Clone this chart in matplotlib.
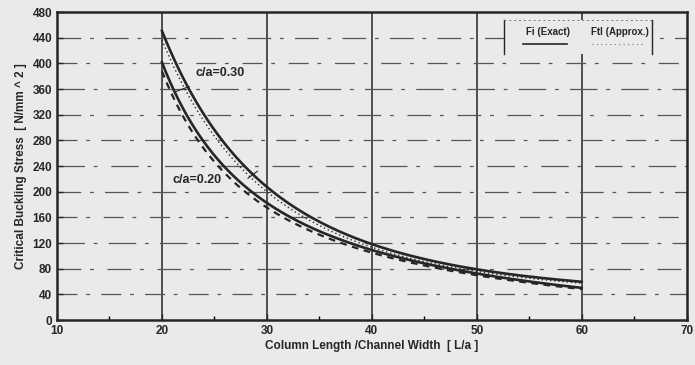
import matplotlib
matplotlib.use("Agg")
import matplotlib.pyplot as plt
import numpy as np

# Values
L_a = [20, 25, 30, 35, 40, 45, 50, 55, 60]
exact_030 = [450, 300, 203, 152, 120, 97, 80, 68, 58]
approx_030 = [436, 290, 196, 146, 115, 93, 77, 65, 56]
exact_020 = [402, 255, 185, 138, 109, 88, 72, 60, 51]
approx_020 = [388, 245, 178, 132, 105, 85, 69, 58, 49]

x_ticks = [10, 20, 30, 40, 50, 60, 70]
y_ticks = list(range(0, 481, 40))

plt.rcParams['font.family'] = ['Liberation Sans', 'DejaVu Sans']
plt.rcParams['font.weight'] = 'bold'

bg = '#eaeae8'
ink = '#262626'

fig = plt.figure(figsize=(6.95, 3.65), dpi=100, facecolor=bg)
ax = fig.add_axes([0.082, 0.123, 0.906, 0.844], facecolor=bg)

# smooth the read points a little for drawing
def smooth(x, y):
    xs = np.linspace(x[0], x[-1], 200)
    c = np.polyfit(1.0 / np.array(x), np.array(y), 3)
    return xs, np.polyval(c, 1.0 / xs)

# grid: vertical solid, horizontal broken (faded scan)
for xv in x_ticks[1:-1]:
    ax.axvline(xv, color=ink, lw=1.1, zorder=1)
for i, yv in enumerate(y_ticks[1:-1]):
    ax.axhline(yv, color='#555555', lw=0.9, zorder=1,
               dashes=(16 + 3 * (i % 3), 7, 3, 9 + 2 * (i % 2)))

xs, ys = smooth(L_a, exact_030)
ax.plot(xs, ys, color=ink, lw=1.9, zorder=3)
xs, ys = smooth(L_a, approx_030)
ax.plot(xs, ys, color=ink, lw=1.0, ls=(0, (1, 2)), zorder=3)
xs, ys = smooth(L_a, exact_020)
ax.plot(xs, ys, color=ink, lw=1.9, zorder=3)
xs, ys = smooth(L_a, approx_020)
ax.plot(xs, ys, color=ink, lw=1.6, ls=(0, (3, 2.5)), zorder=3)

ax.text(23.2, 385, "c/a=0.30", fontsize=9, fontweight='bold', color=ink,
        va='center', ha='left')
ax.plot([21.3, 22.6], [356, 364], color=ink, lw=0.8)
ax.text(21.0, 218, "c/a=0.20", fontsize=9, fontweight='bold', color=ink,
        va='center', ha='left')
ax.plot([28.2, 29.1], [221, 232], color=ink, lw=0.8)

# legend box
ax.add_patch(plt.Rectangle((0.71, 0.865), 0.235, 0.11, transform=ax.transAxes,
                           facecolor=bg, edgecolor='none', zorder=2))
ax.plot([0.71, 0.71], [0.865, 0.975], transform=ax.transAxes, color=ink, lw=1.0)
ax.plot([0.945, 0.945], [0.865, 0.975], transform=ax.transAxes, color=ink, lw=1.0)
ax.plot([0.71, 0.945], [0.975, 0.975], transform=ax.transAxes, color='#777777',
        lw=0.7, ls=(0, (2, 3)))
ax.text(0.745, 0.935, "Fi (Exact)", transform=ax.transAxes, fontsize=7,
        fontweight='bold', color=ink, va='center', zorder=4)
ax.text(0.848, 0.935, "Ftl (Approx.)", transform=ax.transAxes, fontsize=7,
        fontweight='bold', color=ink, va='center', zorder=4)
ax.plot([0.74, 0.81], [0.895, 0.895], transform=ax.transAxes, color=ink, lw=1.2,
        zorder=4)
ax.plot([0.85, 0.93], [0.895, 0.895], transform=ax.transAxes, color='#777777',
        lw=0.8, ls=(0, (1, 3)), zorder=4)

ax.set_xlim(10, 70)
ax.set_ylim(0, 480)
ax.set_xticks(x_ticks)
ax.set_yticks(y_ticks)
ax.set_xticks([15, 25, 35, 45, 55, 65], minor=True)
ax.tick_params(direction='in', length=4, width=1.0, labelsize=8.5, colors=ink)
ax.tick_params(which='minor', direction='in', length=3, width=1.0)
for lbl in ax.get_xticklabels() + ax.get_yticklabels():
    lbl.set_fontweight('bold')
for s in ax.spines.values():
    s.set_linewidth(1.8)
    s.set_color(ink)

ax.set_xlabel("Column Length /Channel Width  [ L/a ]", fontsize=8.5,
              fontweight='bold', color=ink, labelpad=2)
ax.set_ylabel("Critical Buckling Stress  [ N/mm ^ 2 ]", fontsize=8.5,
              fontweight='bold', color=ink, labelpad=4)

fig.savefig("out.png", dpi=100, facecolor=bg)
